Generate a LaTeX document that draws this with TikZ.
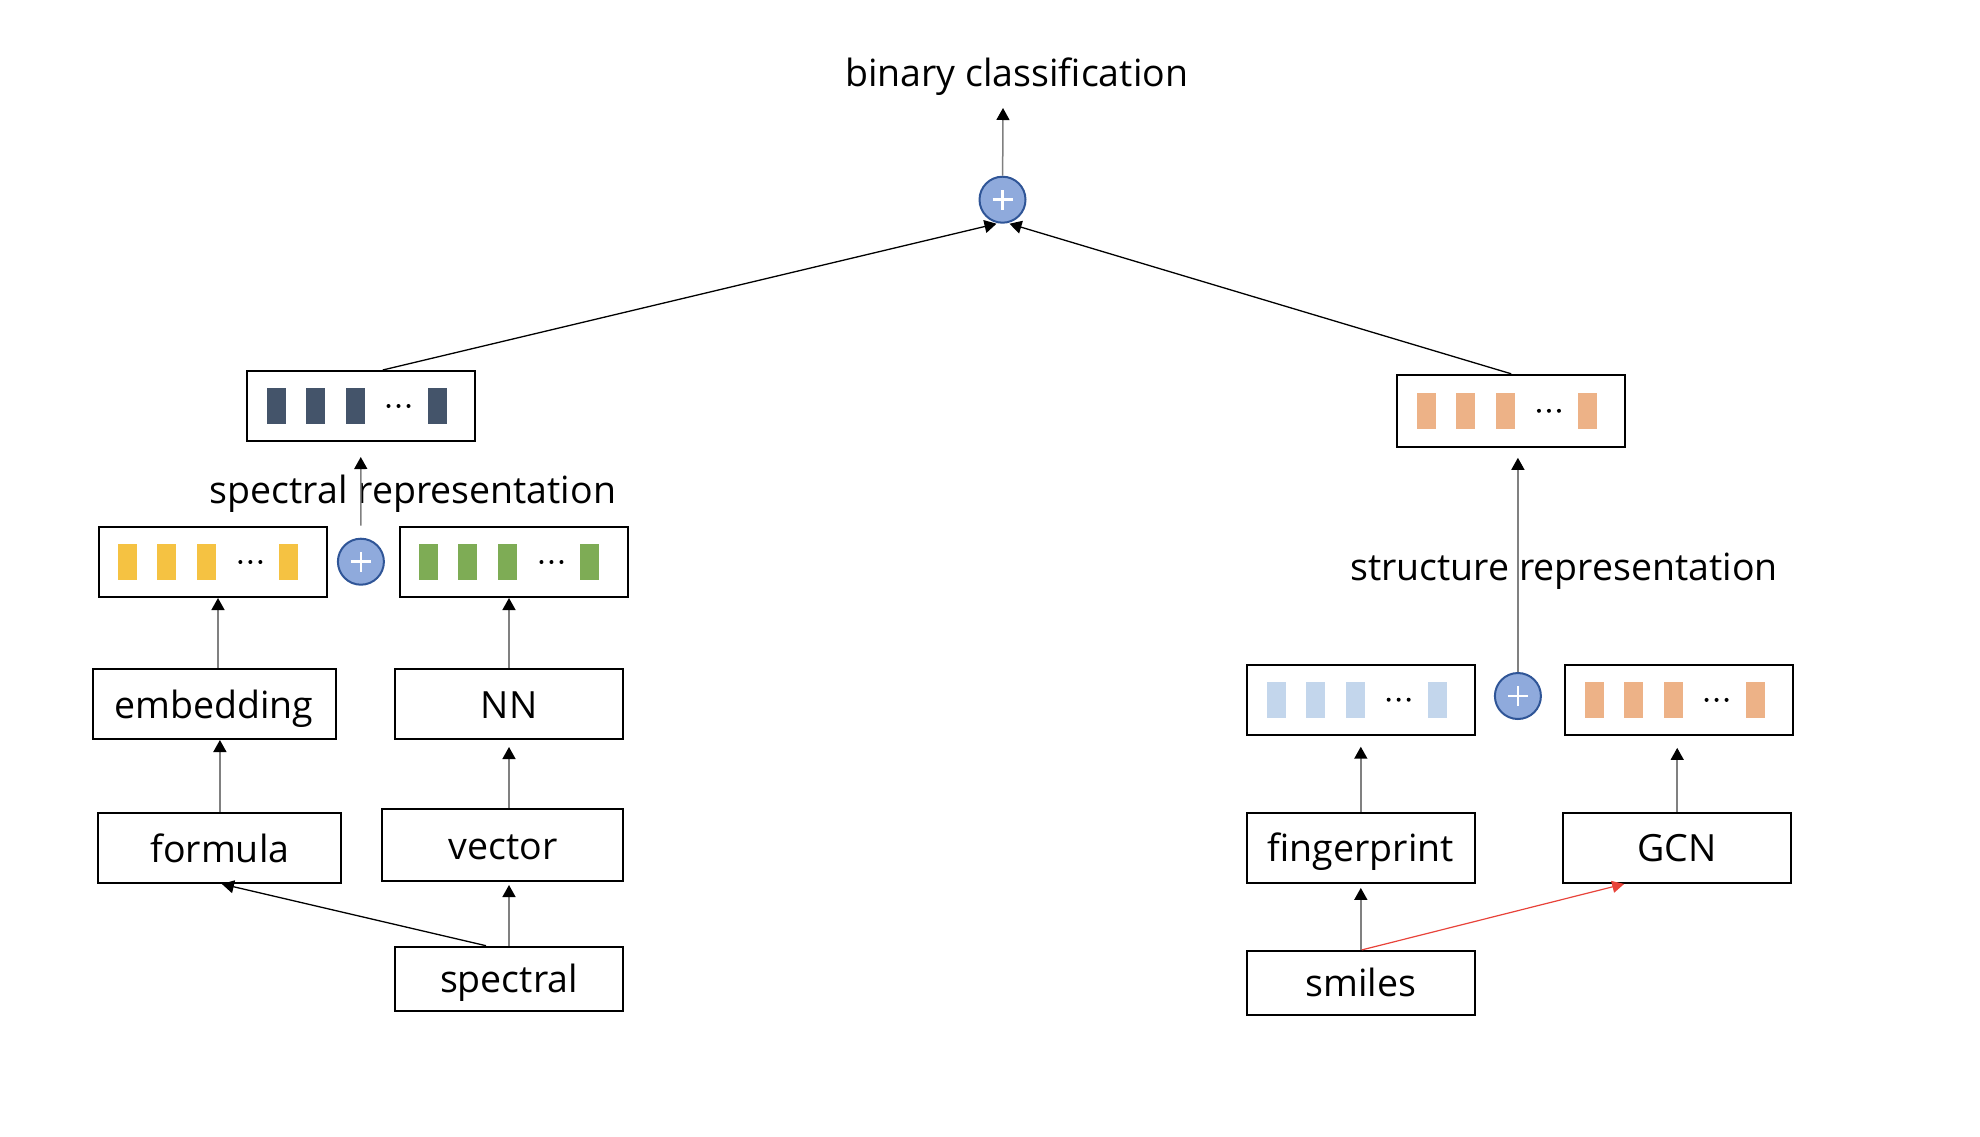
\documentclass[tikz,border=0pt]{standalone}
\usepackage{fontspec}
\setmainfont{Open Sans}
\usetikzlibrary{arrows.meta, positioning, calc}
\definecolor{darkcell}{HTML}{44546A}
\definecolor{yellowcell}{HTML}{F5C242}
\definecolor{greencell}{HTML}{7EAC55}
\definecolor{orangecell}{HTML}{EDB287}
\definecolor{bluecell}{HTML}{C3D6EC}
\definecolor{plusfill}{HTML}{8FAADC}
\definecolor{plusedge}{HTML}{2F5597}
\definecolor{redlink}{HTML}{E8433A}
\newcommand{\labelfont}{\fontsize{37.5}{45}\selectfont}

% cells of a feature vector: node name, colour
\newcommand{\cells}[2]{
    \foreach \dx in {-94.25, -55.25, -15.25, 66.75} {
        \fill[#2] ([xshift=\dx pt, yshift=-18pt]#1.center) rectangle +(19pt, 36pt);
    }
    \foreach \dx in {27.75, 37.75, 47.75} {
        \fill ([xshift=\dx pt]#1.center) circle (2pt);
    }
}

\tikzset{
    box/.style={draw, line width=2pt, minimum width=228pt, minimum height=70pt,
        inner sep=0pt, text height=32pt, text depth=4pt, font=\labelfont},
    vecbox/.style={draw, line width=2pt, minimum width=228pt, minimum height=70pt},
    plus/.style={circle, draw=plusedge, fill=plusfill, line width=2pt,
        minimum size=46pt, inner sep=0pt,
        path picture={
            \draw[white, line width=2.5pt] ([xshift=-10pt]path picture bounding box.center) -- ++(20pt,0pt);
            \draw[white, line width=2.5pt] ([yshift=-10pt]path picture bounding box.center) -- ++(0pt,20pt);
        }},
    reptext/.style={font=\labelfont, anchor=base, inner sep=0pt},
    arr/.style={draw=gray, line width=1.5pt, -{Triangle[length=12pt, width=13pt, color=black]}},
    link/.style={draw=black, line width=1.3pt, -{Triangle[length=12pt, width=13pt, color=black]}},
    redarr/.style={draw=redlink, line width=1.2pt, -{Triangle[length=12pt, width=12pt]}}
}

\begin{document}
\begin{tikzpicture}[x=1pt, y=-1pt]
    \useasboundingbox (0,0) rectangle (1980,1136);

    % Output
    \node[plus] (sum) at (1002.5,199.7) {};
    \node[reptext] (out) at (1016.7,86.7) {binary classification};
    \coordinate (outtip) at (1003,108);

    % Spectral branch
    \node[vecbox] (specvec) at (360.75,406) {};
    \node[plus] (specsum) at (360.9,561.7) {};
    \node[reptext] (speclabel) at (413,503) {spectral representation};
    \node[vecbox] (formvec) at (212.6,562) {};
    \node[vecbox] (nnvec) at (513.7,562) {};
    \node[box, minimum width=243pt] (embed) at (214,704) {embedding};
    \node[box] (nn) at (509,704) {NN};
    \node[box, minimum width=243pt] (formula) at (219.9,848) {formula};
    \node[box, minimum width=241pt, minimum height=72pt] (vector) at (502.9,845) {vector};
    \node[box, minimum height=64pt] (spectral) at (509,978.7) {spectral};

    % Structure branch
    \node[vecbox, minimum height=72pt] (strucvec) at (1511.2,410.8) {};
    \node[plus] (strucsum) at (1517.9,696) {};
    \node[reptext] (struclabel) at (1564,580) {structure representation};
    \node[vecbox] (fpvec) at (1360.9,699.7) {};
    \node[vecbox] (gcnvec) at (1678.8,699.9) {};
    \node[box] (fp) at (1360.8,847.9) {fingerprint};
    \node[box] (gcn) at (1677.2,847.9) {GCN};
    \node[box, minimum height=64pt] (smiles) at (1360.8,982.9) {smiles};

    % Vector cells
    \cells{specvec}{darkcell}
    \cells{formvec}{yellowcell}
    \cells{nnvec}{greencell}
    \cells{strucvec}{orangecell}
    \cells{fpvec}{bluecell}
    \cells{gcnvec}{orangecell}

    % Connectors
    \draw[arr] (sum) -- (outtip);
    \draw[link] ([xshift=22pt]specvec.north) -- ([xshift=-6pt]sum.south);
    \draw[link] (strucvec.north) -- ([xshift=7pt]sum.south);

    \draw[arr] ([yshift=12pt]specsum.north) -- ([yshift=-15pt]specvec.south);
    \draw[arr] ([xshift=4pt]embed.north) -- ($(embed.north |- formvec.south)+(4,0)$);
    \draw[arr] (nn.north) -- (nn.north |- nnvec.south);
    \draw[arr] (formula.north) -- (formula.north |- embed.south);
    \draw[arr] (vector.north -| nn.south) -- ($(nn.south)+(0,7)$);
    \draw[arr] (spectral.north) -- ($(spectral.north |- vector.south)+(0,3)$);
    \draw[link] ([xshift=-23pt]spectral.north) -- ([xshift=2pt]formula.south);

    \draw[arr] (strucsum) -- ($(strucvec.south -| strucsum.north)+(0,10)$);
    \draw[arr] (fp.north) -- ($(fp.north |- fpvec.south)+(0,11)$);
    \draw[arr] (gcn.north) -- ($(gcn.north |- gcnvec.south)+(0,12)$);
    \draw[arr] (smiles.north) -- ($(smiles.north |- fp.south)+(0,4)$);
    \draw[redarr] ([xshift=1pt]smiles.north) -- ([xshift=-53pt]gcn.south);
\end{tikzpicture}
\end{document}
